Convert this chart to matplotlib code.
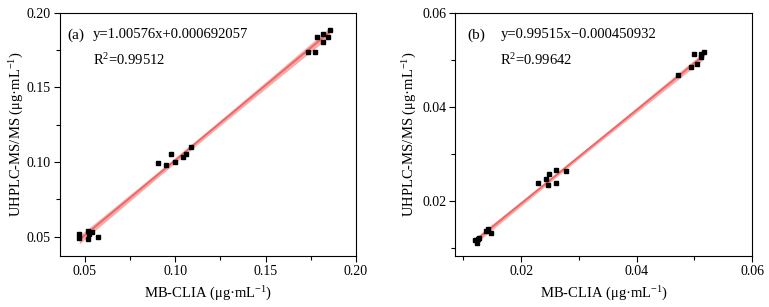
import numpy as np
import matplotlib
matplotlib.use("Agg")
import matplotlib.pyplot as plt
from matplotlib.ticker import MultipleLocator

plt.rcParams['font.family'] = ['Liberation Serif', 'DejaVu Serif']
plt.rcParams['mathtext.fontset'] = 'custom'
plt.rcParams['mathtext.rm'] = 'Liberation Serif'
plt.rcParams['mathtext.it'] = 'Liberation Serif'

# panel (a) data
xa = [0.0469, 0.0469, 0.0518, 0.0524, 0.0540, 0.0518, 0.0570,
      0.0903, 0.0975, 0.0949, 0.0997, 0.1040, 0.1058, 0.1087,
      0.1734, 0.1771, 0.1782, 0.1815, 0.1817, 0.1843, 0.1854]
ya = [0.0516, 0.0493, 0.0540, 0.0520, 0.0530, 0.0483, 0.0500,
      0.0997, 0.1053, 0.0983, 0.1001, 0.1037, 0.1055, 0.1100,
      0.1741, 0.1741, 0.1840, 0.1856, 0.1804, 0.1840, 0.1882]
slope_a, icpt_a = 1.00576, 0.000692057

# panel (b) data
xb = [0.0120, 0.0123, 0.0127, 0.0125, 0.0139, 0.0143, 0.0148,
      0.0229, 0.0243, 0.0248, 0.0246, 0.0260, 0.0260, 0.0277,
      0.0472, 0.0494, 0.0500, 0.0504, 0.0511, 0.0511, 0.0516]
yb = [0.0117, 0.0111, 0.0121, 0.0119, 0.0136, 0.0140, 0.0133,
      0.0238, 0.0247, 0.0258, 0.0234, 0.0267, 0.0238, 0.0263,
      0.0469, 0.0485, 0.0513, 0.0492, 0.0506, 0.0512, 0.0517]
slope_b, icpt_b = 0.99515, -0.000450932

fig = plt.figure(figsize=(7.69, 3.07), dpi=100)
ax1 = fig.add_axes([0.078, 0.166, 0.385, 0.792])
ax2 = fig.add_axes([0.592, 0.166, 0.386, 0.792])


def draw(ax, x, y, k, b, tag, eq, r2, tx, ex, ly):
    x = np.array(x)
    y = np.array(y)
    xs = np.linspace(x.min(), x.max(), 100)
    fit = k * xs + b
    # 95% confidence band of the fit
    n = len(x)
    res = y - (k * x + b)
    s = np.sqrt(np.sum(res ** 2) / (n - 2))
    se = s * np.sqrt(1 / n + (xs - x.mean()) ** 2 / np.sum((x - x.mean()) ** 2))
    ax.fill_between(xs, fit - 2.09 * se, fit + 2.09 * se, color='#f6abab', lw=0, zorder=1)
    ax.plot(xs, fit, color='#f06464', lw=1.3, zorder=2)
    ax.plot(x, y, 's', color='black', ms=2.5, zorder=3)
    ax.tick_params(direction='out', length=4, width=0.8, labelsize=10, pad=2.5)
    ax.tick_params(which='minor', direction='out', length=3, width=0.8)
    for sp in ax.spines.values():
        sp.set_linewidth(0.8)
    ax.set_xlabel(r'MB-CLIA (μg·mL$^{-1}$)', fontsize=10.5, labelpad=5)
    ax.set_ylabel(r'UHPLC-MS/MS (μg·mL$^{-1}$)', fontsize=10.5)
    ax.yaxis.set_label_coords(ly, 0.5)
    ax.text(tx, 0.895, tag, transform=ax.transAxes, fontsize=11)
    ax.text(ex, 0.895, eq, transform=ax.transAxes, fontsize=10.5)
    ax.text(ex, 0.785, r2, transform=ax.transAxes, fontsize=10.5)


draw(ax1, xa, ya, slope_a, icpt_a, '(a)', 'y=1.00576x+0.000692057',
     r'R$^{2}$=0.99512', 0.025, 0.11, -0.115)
ax1.set_xlim(0.0362, 0.20)
ax1.set_ylim(0.037, 0.20)
ax1.xaxis.set_major_locator(MultipleLocator(0.05))
ax1.xaxis.set_minor_locator(MultipleLocator(0.025))
ax1.yaxis.set_major_locator(MultipleLocator(0.05))
ax1.yaxis.set_minor_locator(MultipleLocator(0.025))
ax1.xaxis.set_major_formatter(lambda v, p: f'{v:.2f}')
ax1.yaxis.set_major_formatter(lambda v, p: f'{v:.2f}')

draw(ax2, xb, yb, slope_b, icpt_b, '(b)', 'y=0.99515x\u22120.000450932',
     r'R$^{2}$=0.99642', 0.04, 0.152, -0.122)
ax2.set_xlim(0.0086, 0.06)
ax2.set_ylim(0.0083, 0.06)
ax2.xaxis.set_major_locator(MultipleLocator(0.02))
ax2.xaxis.set_minor_locator(MultipleLocator(0.01))
ax2.yaxis.set_major_locator(MultipleLocator(0.02))
ax2.yaxis.set_minor_locator(MultipleLocator(0.01))
ax2.xaxis.set_major_formatter(lambda v, p: f'{v:.2f}')
ax2.yaxis.set_major_formatter(lambda v, p: f'{v:.2f}')

fig.savefig('out.png', dpi=100)
